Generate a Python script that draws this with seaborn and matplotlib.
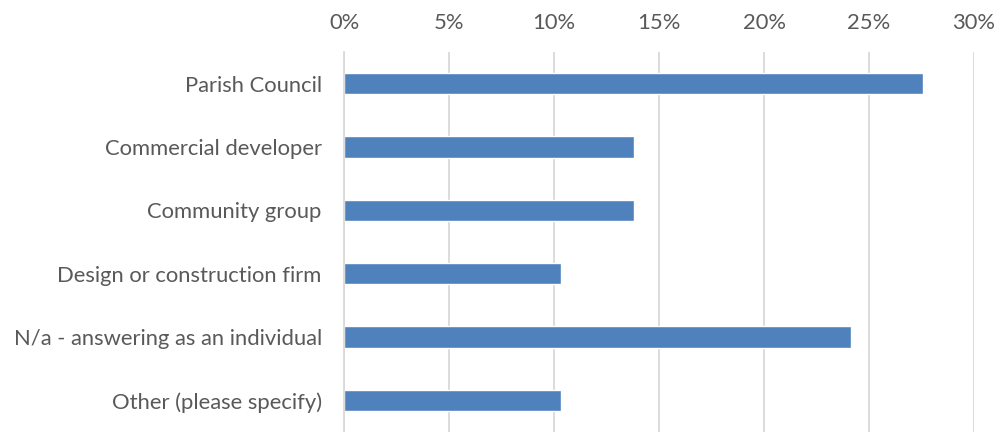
import matplotlib
matplotlib.use("Agg")
import matplotlib.pyplot as plt
import seaborn as sns
import pandas as pd
from matplotlib.ticker import PercentFormatter, MultipleLocator

categories = [
    "Parish Council",
    "Commercial developer",
    "Community group",
    "Design or construction firm",
    "N/a - answering as an individual",
    "Other (please specify)",
]
shares = [0.2759, 0.1379, 0.1379, 0.1034, 0.2414, 0.1034]

df = pd.DataFrame({"category": categories, "share": shares})

sns.set_theme(style="white")
plt.rcParams["font.family"] = ["Lato", "DejaVu Sans"]

text_color = "#595959"
grid_color = "#d9d9d9"
bar_color = "#4f81bd"

fig = plt.figure(figsize=(9.96, 4.32), dpi=100)
ax = fig.add_axes([344 / 996, 0.0, (974 - 344) / 996, 1 - 52 / 432])

sns.barplot(data=df, x="share", y="category", orient="h", color=bar_color,
            width=0.34, saturation=1, ax=ax)

ax.set_xlim(0, 0.30)
ax.set_ylim(len(categories) - 0.5, -0.5)
ax.xaxis.set_major_locator(MultipleLocator(0.05))
ax.xaxis.set_major_formatter(PercentFormatter(1.0, decimals=0))
ax.xaxis.tick_top()
ax.set_xlabel("")
ax.set_ylabel("")

ax.grid(axis="x", color=grid_color, linewidth=1.3)
ax.set_axisbelow(True)
for side in ["top", "right", "bottom"]:
    ax.spines[side].set_visible(False)
ax.spines["left"].set_color(grid_color)
ax.spines["left"].set_linewidth(1.3)

ax.tick_params(axis="x", length=0, pad=14, labelsize=15.8, labelcolor=text_color)
ax.tick_params(axis="y", length=0, pad=16, labelsize=15.8, labelcolor=text_color)

fig.savefig("out.png", dpi=100)
